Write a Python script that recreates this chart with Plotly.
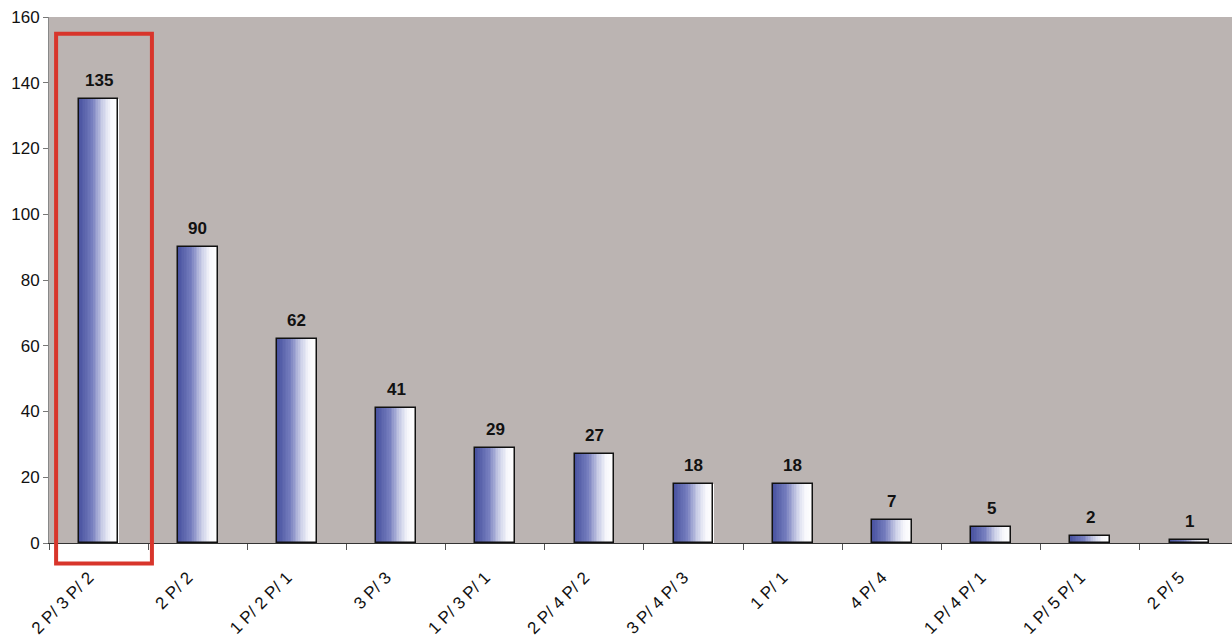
import plotly.graph_objects as go

categories = ["2 P/ 3 P/ 2", "2 P/ 2", "1 P/ 2 P/ 1", "3 P/ 3", "1 P/ 3 P/ 1", "2 P/ 4 P/ 2",
              "3 P/ 4 P/ 3", "1 P/ 1", "4 P/ 4", "1 P/ 4 P/ 1", "1 P/ 5 P/ 1", "2 P/ 5"]
values = [135, 90, 62, 41, 29, 27, 18, 18, 7, 5, 2, 1]
y_ticks = [0, 20, 40, 60, 80, 100, 120, 140, 160]

# horizontal gradient (left blue -> right white) emulated by thin bar slices
grad_stops = [(0.0, (70, 80, 158)), (0.35, (118, 126, 190)), (0.6, (200, 204, 230)),
              (0.82, (248, 248, 252)), (1.0, (255, 255, 255))]


def grad_color(t):
    for (t0, c0), (t1, c1) in zip(grad_stops[:-1], grad_stops[1:]):
        if t0 <= t <= t1:
            f = (t - t0) / (t1 - t0) if t1 > t0 else 0
            c = [round(a + (b - a) * f) for a, b in zip(c0, c1)]
            return f"rgb({c[0]},{c[1]},{c[2]})"
    return "white"


BAR_W = 0.4
N = 24
fig = go.Figure()
for i in range(N):
    fig.add_trace(go.Bar(
        x=categories, y=values,
        width=BAR_W / N + 0.002, offset=-BAR_W / 2 + i * BAR_W / N,
        marker=dict(color=grad_color((i + 0.5) / N), line=dict(width=0)),
        hoverinfo="skip", showlegend=False,
    ))

# outline
fig.add_trace(go.Bar(
    x=categories, y=values, width=BAR_W, offset=-BAR_W / 2,
    marker=dict(color="rgba(0,0,0,0)", line=dict(color="#111", width=1.5)),
    showlegend=False,
))

for c, v in zip(categories, values):
    fig.add_annotation(x=c, y=v, text=f"<b>{v}</b>", showarrow=False,
                       yanchor="bottom", yshift=7,
                       font=dict(family="Liberation Sans, Arial", size=17, color="#111"))

# red highlight box
fig.add_shape(type="rect", xref="paper", yref="paper",
              x0=0.006, x1=0.087, y0=-0.039, y1=0.968,
              line=dict(color="#d8352b", width=4), fillcolor="rgba(0,0,0,0)")

fig.update_layout(
    width=1232, height=640,
    margin=dict(l=49, r=0, t=17, b=97),
    paper_bgcolor="white", plot_bgcolor="#bbb4b2",
    barmode="overlay", bargap=0,
    font=dict(family="Liberation Sans, Arial", size=17, color="#111"),
    xaxis=dict(type="category", range=[-0.5, 11.43], tickangle=-45,
               ticks="outside", tickson="boundaries", ticklen=6, tickcolor="#555",
               showline=True, linecolor="#333", linewidth=1, showgrid=False,
               ticklabelstandoff=17, ticklabelshift=-10,
               tickfont=dict(size=17), automargin=False),
    yaxis=dict(range=[0, 160], tickvals=y_ticks, ticks="outside", ticklen=5,
               tickcolor="#777", showline=True, linecolor="#888", linewidth=1,
               showgrid=False, zeroline=False, tickfont=dict(size=17), automargin=False),
)

fig.write_html("out.html")
